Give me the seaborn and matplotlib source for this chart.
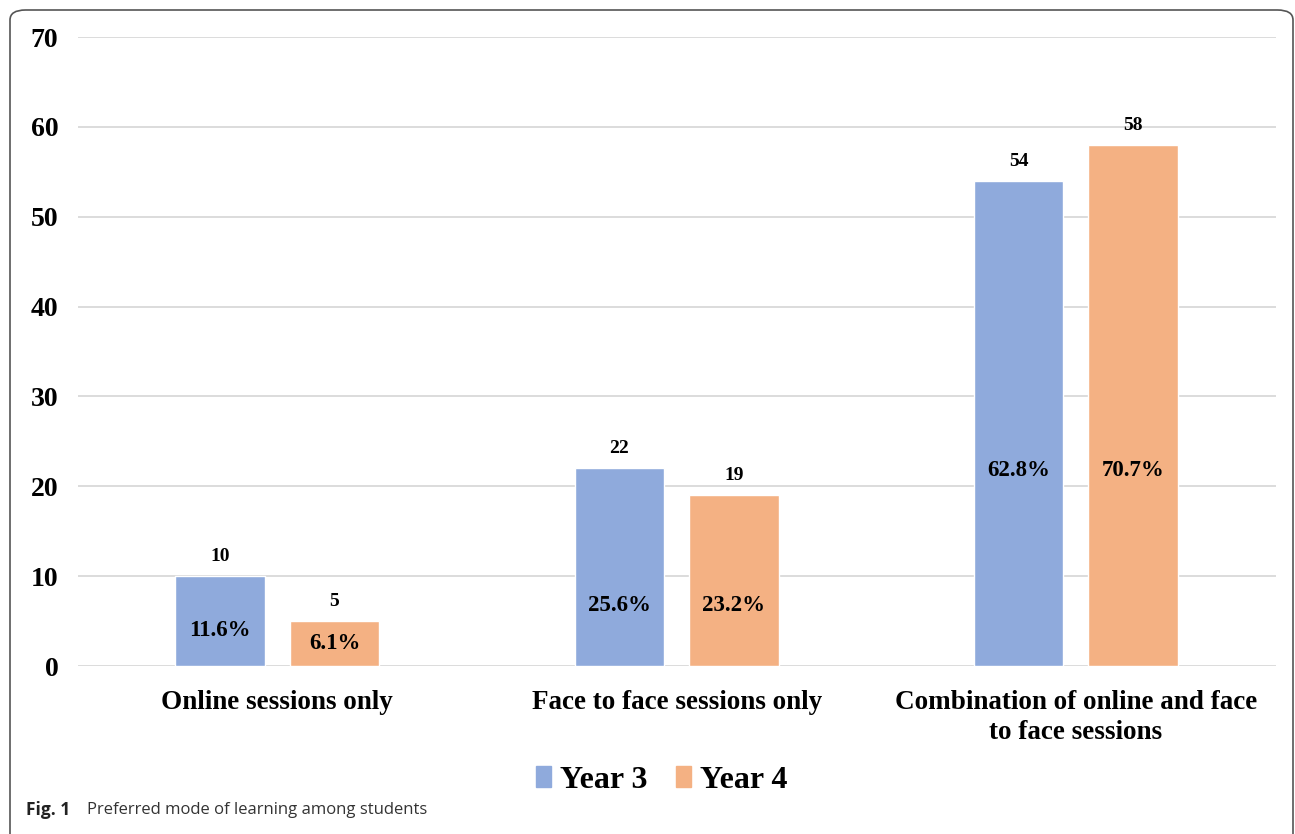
import matplotlib.pyplot as plt
import pandas as pd
import seaborn as sns
from matplotlib.patches import FancyBboxPatch

# ---------------- Data ----------------
CATEGORIES = [
    "Online sessions only",
    "Face to face sessions only",
    "Combination of online and face\nto face sessions",
]
YEARS = ["Year 3", "Year 4"]
YEAR3_COUNTS = [10, 22, 54]
YEAR4_COUNTS = [5, 19, 58]
YEAR3_PCT = ["11.6%", "25.6%", "62.8%"]
YEAR4_PCT = ["6.1%", "23.2%", "70.7%"]
# heights (in data units) at which the percentage labels sit inside the bars
PCT_LABEL_Y = [4.0, 6.7, 21.8]
PCT_LABEL_Y4 = [2.5, 6.7, 21.8]

COLORS = {"Year 3": "#8FAADC", "Year 4": "#F4B183"}
SERIF = ["Liberation Serif", "DejaVu Serif"]

df = pd.DataFrame({
    "category": CATEGORIES * 2,
    "year": [YEARS[0]] * 3 + [YEARS[1]] * 3,
    "count": YEAR3_COUNTS + YEAR4_COUNTS,
})

sns.set_theme(style="white")
plt.rcParams["font.family"] = SERIF
plt.rcParams["text.color"] = "black"
plt.rcParams["xtick.color"] = "black"
plt.rcParams["ytick.color"] = "black"

fig = plt.figure(figsize=(12.95, 8.34), dpi=100)
ax = fig.add_axes([0.060, 0.2014, 0.925, 0.7542])

sns.barplot(
    data=df, x="category", y="count", hue="year", order=CATEGORIES,
    hue_order=YEARS, palette=COLORS, width=0.573, gap=0.218,
    saturation=1, ax=ax, legend=False,
)

ax.set_ylim(0, 70)
ax.set_yticks(range(0, 71, 10))
ax.yaxis.grid(True, color="#D9D9D9", linewidth=1.3)
ax.set_axisbelow(True)
for s in ax.spines.values():
    s.set_visible(False)
ax.set_xlabel("")
ax.set_ylabel("")
ax.tick_params(axis="y", labelsize=20, pad=14, length=0, labelcolor="black")
ax.tick_params(axis="x", labelsize=19.5, pad=17, length=0, labelcolor="black")
for lbl in ax.get_yticklabels() + ax.get_xticklabels():
    lbl.set_fontweight("bold")
    lbl.set_family(SERIF)
for lbl in ax.get_xticklabels():
    lbl.set_linespacing(1.3)

# count labels on top, percentages inside
pct_sets = [(YEAR3_PCT, PCT_LABEL_Y), (YEAR4_PCT, PCT_LABEL_Y4)]
for container, (pcts, ys) in zip(ax.containers, pct_sets):
    ax.bar_label(container, fontsize=14, fontweight="bold", padding=8,
                 family=SERIF, color="black")
    for bar, txt, y in zip(container, pcts, ys):
        ax.text(bar.get_x() + bar.get_width() / 2, y, txt, ha="center", va="center",
                fontsize=16.5, fontweight="bold", family=SERIF, color="black")

# legend
handles = [plt.Rectangle((0, 0), 1, 1, color=COLORS[y]) for y in YEARS]
fig.legend(handles, YEARS, loc="center", bbox_to_anchor=(662 / 1295, 1 - 780 / 834),
           ncol=2, frameon=False, handlelength=0.45, handleheight=0.65,
           handletextpad=0.3, columnspacing=0.9,
           prop={"family": SERIF, "weight": "bold", "size": 23})

# rounded frame and caption
frame = FancyBboxPatch((10 / 1295, -0.05), 1283 / 1295, 1 - 10 / 834 + 0.05,
                       boxstyle="round,pad=0,rounding_size=0.012",
                       transform=fig.transFigure, fill=False,
                       edgecolor="#555555", linewidth=1.2)
fig.patches.append(frame)
fig.text(26 / 1295, 1 - 810 / 834, "Fig. 1", fontsize=12.5, fontweight="bold",
         family=["Open Sans", "DejaVu Sans"], va="center", color="#222222")
fig.text(87 / 1295, 1 - 810 / 834, "Preferred mode of learning among students",
         fontsize=12, family=["Open Sans", "DejaVu Sans"], va="center", color="#333333")

fig.savefig("out.png", dpi=100)
